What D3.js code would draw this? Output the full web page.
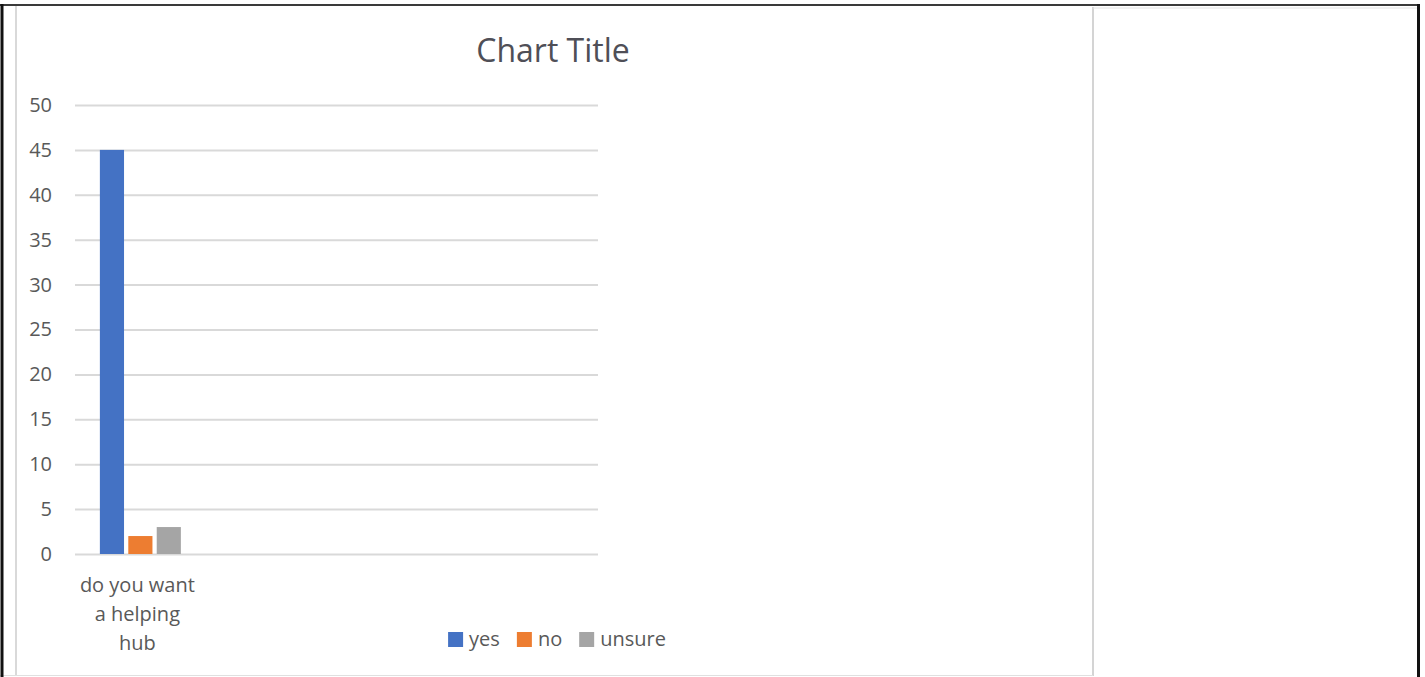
<!DOCTYPE html>
<html>
<head>
<meta charset="utf-8">
<script src="https://cdn.jsdelivr.net/npm/d3@7"></script>
<style>
  body { margin: 0; background: #fff; }
  svg { display: block; font-family: "Open Sans", sans-serif; }
</style>
</head>
<body>
<div id="chart"></div>
<script>

// one real category, then three blank ones that only take up space on the axis
var categories = ["do you want a helping hub", "", "", ""];
var series = ["yes", "no", "unsure"];
var yesValues = [45];
var noValues = [2];
var unsureValues = [3];
var yTicks = [0, 5, 10, 15, 20, 25, 30, 35, 40, 45, 50];

var colours = ["#4472C4", "#ED7D31", "#A5A5A5"];

function init(){

	var w = 1425;
	var h = 677;

	var svg = d3.select("#chart")
				.append("svg")
				.attr("width", w)
				.attr("height", h);

	// window frame bits from the screenshot
	svg.append("rect").attr("x", 0).attr("y", 0).attr("width", w).attr("height", h).attr("fill", "#fff");
	svg.append("line").attr("x1", 16).attr("x2", 16).attr("y1", 6).attr("y2", 676)
		.attr("stroke", "#d9d9d9").attr("stroke-width", 2);
	svg.append("line").attr("x1", 1093).attr("x2", 1093).attr("y1", 7).attr("y2", 676)
		.attr("stroke", "#d4d4d4").attr("stroke-width", 2);
	svg.append("line").attr("x1", 1093).attr("x2", 1417).attr("y1", 8).attr("y2", 8)
		.attr("stroke", "#e2e2e2").attr("stroke-width", 1);
	svg.append("line").attr("x1", 0).attr("x2", 1093).attr("y1", 675.5).attr("y2", 675.5)
		.attr("stroke", "#e0e0e0").attr("stroke-width", 1);
	svg.append("line").attr("x1", 0).attr("x2", 1420).attr("y1", 5).attr("y2", 5)
		.attr("stroke", "#3a3a3a").attr("stroke-width", 2);
	svg.append("line").attr("x1", 2).attr("x2", 2).attr("y1", 4).attr("y2", h)
		.attr("stroke", "#111").attr("stroke-width", 3);
	svg.append("line").attr("x1", 1418.5).attr("x2", 1418.5).attr("y1", 4).attr("y2", h)
		.attr("stroke", "#111").attr("stroke-width", 3);

	var left = 75, right = 598, top = 105, bottom = 554;

	var yScale = d3.scaleLinear()
					.domain([0, 50])
					.range([bottom, top]);

	var xScale = d3.scaleBand()
					.domain(d3.range(categories.length))
					.range([left, right]);

	var xInner = d3.scaleBand()
					.domain(series)
					.range([0, 81])
					.paddingInner(0.15);

	// gridlines + tick labels
	var yAxis = d3.axisLeft(yScale)
					.tickValues(yTicks)
					.tickSize(-(right - left))
					.tickPadding(23);

	var gy = svg.append("g")
		.attr("transform", "translate(" + left + ",0)")
		.call(yAxis);
	gy.select(".domain").remove();
	gy.selectAll(".tick line").attr("stroke", "#d9d9d9").attr("stroke-width", 2);
	gy.selectAll(".tick text")
		.attr("fill", "#595959")
		.attr("font-size", 20)
		.attr("font-family", "Open Sans");

	// bars
	var rows = categories.map(function(c, i){
		return { i: i, values: [yesValues[i], noValues[i], unsureValues[i]] };
	}).filter(function(r){ return r.values[0] !== undefined; });

	var groupOffset = (xScale.bandwidth() - 81) / 2;

	var groups = svg.selectAll("g.cat")
		.data(rows)
		.enter()
		.append("g")
		.attr("class", "cat")
		.attr("transform", function(d){
			return "translate(" + (xScale(d.i) + groupOffset) + ",0)";
		});

	groups.selectAll("rect")
		.data(function(d){
			return d.values.map(function(v, j){ return { s: series[j], v: v, j: j }; });
		})
		.enter()
		.append("rect")
		.attr("x", function(d){ return xInner(d.s); })
		.attr("y", function(d){ return yScale(d.v); })
		.attr("width", xInner.bandwidth())
		.attr("height", function(d){ return bottom - yScale(d.v); })
		.attr("fill", function(d){ return colours[d.j]; });

	// category labels, wrapped the way excel does it
	var catLines = { 0: ["do you want", "a helping", "hub"] };
	categories.forEach(function(c, i){
		if (!catLines[i]) return;
		var t = svg.append("text")
			.attr("x", xScale(i) + xScale.bandwidth() / 2 - 3)
			.attr("y", 592)
			.attr("text-anchor", "middle")
			.attr("fill", "#595959")
			.attr("font-size", 20);
		catLines[i].forEach(function(line, k){
			t.append("tspan")
				.attr("x", xScale(i) + xScale.bandwidth() / 2 - 3)
				.attr("dy", k == 0 ? 0 : 29)
				.text(line);
		});
	});

	// title
	svg.append("text")
		.attr("x", 553)
		.attr("y", 62)
		.attr("text-anchor", "middle")
		.attr("fill", "#4f4f57")
		.attr("font-size", 32)
		.text("Chart Title");

	// legend
	var legend = svg.append("g");
	var lx = 0;
	series.forEach(function(s, j){
		var item = legend.append("g").attr("transform", "translate(" + lx + ",0)");
		item.append("rect")
			.attr("x", 0).attr("y", 632)
			.attr("width", 15).attr("height", 15)
			.attr("fill", colours[j]);
		var txt = item.append("text")
			.attr("x", 21).attr("y", 646)
			.attr("fill", "#595959")
			.attr("font-size", 20)
			.text(s);
		lx += 21 + txt.node().getComputedTextLength() + 17;
	});
	var legendWidth = lx - 17;
	legend.attr("transform", "translate(" + (557 - legendWidth / 2) + ",0)");

}

window.onload = init;
</script>
</body>
</html>
